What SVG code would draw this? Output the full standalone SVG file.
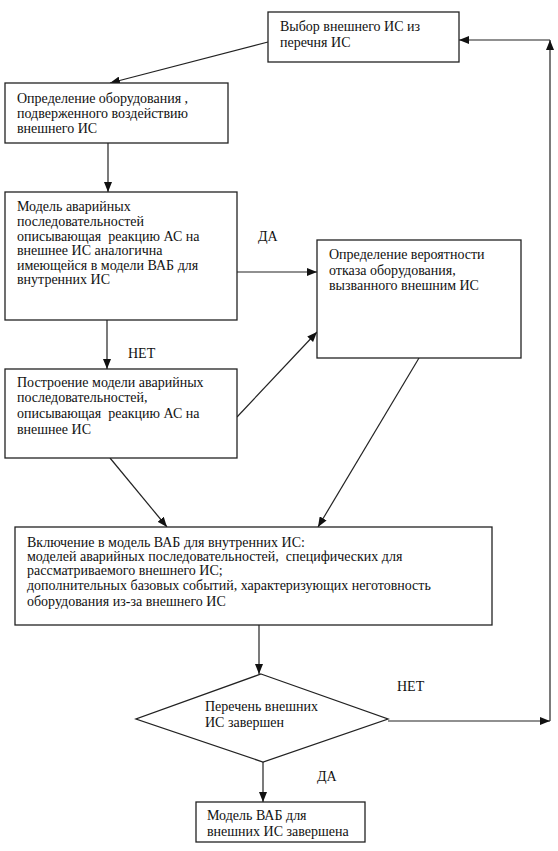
<svg xmlns="http://www.w3.org/2000/svg" width="558" height="851" viewBox="0 0 558 851">
<defs>
<marker id="ah" viewBox="0 0 10 8" refX="10" refY="4" markerWidth="10" markerHeight="8" markerUnits="userSpaceOnUse" orient="auto">
<path d="M0,0 L10,4 L0,8 Z" fill="#111"/>
</marker>
<style>
.box{fill:#fff;stroke:#222;stroke-width:1.3}
.c{fill:none;stroke:#222;stroke-width:1.2;marker-end:url(#ah)}
</style>
</defs>
<rect width="558" height="851" fill="#fff"/>
<g font-family="Liberation Serif" font-size="14" fill="#111">
<g id="connectors">
<path class="c" d="M268,42 L110,83"/>
<path class="c" d="M108,143 L108,192"/>
<path class="c" d="M237,272 L317,272"/>
<path class="c" d="M107,320 L107,369"/>
<path class="c" d="M237,417 L317,332"/>
<path class="c" d="M110,458 L167,527"/>
<path class="c" d="M419,358 L318,527"/>
<path class="c" d="M259,625 L259,674"/>
<path class="c" d="M388,721 L550,721"/>
<path class="c" d="M550,721 L550,40"/>
<path class="c" d="M550,40 L459,40"/>
<path class="c" d="M263,762 L263,802"/>
<text x="258" y="241">ДА</text>
<text x="128" y="358">НЕТ</text>
<text x="397" y="691">НЕТ</text>
<text x="317" y="781">ДА</text>
</g>
<g id="n1">
<rect class="box" x="268" y="12" width="191" height="50"/>
<text x="280" y="31">Выбор внешнего ИС из</text>
<text x="280" y="47">перечня ИС</text>
</g>
<g id="n2">
<rect class="box" x="5" y="83" width="223" height="60"/>
<text x="17" y="103">Определение оборудования ,</text>
<text x="17" y="118">подверженного воздействию</text>
<text x="17" y="133">внешнего ИС</text>
</g>
<g id="n3">
<rect class="box" x="5" y="192" width="232" height="128"/>
<text x="17" y="211">Модель аварийных</text>
<text x="17" y="226">последовательностей</text>
<text x="17" y="241" xml:space="preserve">описывающая  реакцию АС на</text>
<text x="17" y="255">внешнее ИС аналогична</text>
<text x="17" y="270">имеющейся в модели ВАБ для</text>
<text x="17" y="284">внутренних ИС</text>
</g>
<g id="n4">
<rect class="box" x="317" y="240" width="204" height="118"/>
<text x="329" y="259">Определение вероятности</text>
<text x="329" y="275">отказа оборудования,</text>
<text x="329" y="290">вызванного внешним ИС</text>
</g>
<g id="n5">
<rect class="box" x="5" y="369" width="232" height="89"/>
<text x="17" y="387">Построение модели аварийных</text>
<text x="17" y="402">последовательностей,</text>
<text x="17" y="418" xml:space="preserve">описывающая  реакцию АС на</text>
<text x="17" y="434">внешнее ИС</text>
</g>
<g id="n6">
<rect class="box" x="15" y="527" width="477" height="98"/>
<text x="27" y="547">Включение в модель ВАБ для внутренних ИС:</text>
<text x="27" y="561" xml:space="preserve">моделей аварийных последовательностей,  специфических для</text>
<text x="27" y="575">рассматриваемого внешнего ИС;</text>
<text x="27" y="590">дополнительных базовых событий, характеризующих неготовность</text>
<text x="27" y="606">оборудования из-за внешнего ИС</text>
</g>
<g id="n7">
<polygon class="box" points="261,674 388,719 263,762 136,719"/>
<text x="205" y="711">Перечень внешних</text>
<text x="205" y="727">ИС завершен</text>
</g>
<g id="n8">
<rect class="box" x="196" y="802" width="169" height="40"/>
<text x="207" y="820">Модель ВАБ для</text>
<text x="207" y="836">внешних ИС завершена</text>
</g>
</g>
</svg>
